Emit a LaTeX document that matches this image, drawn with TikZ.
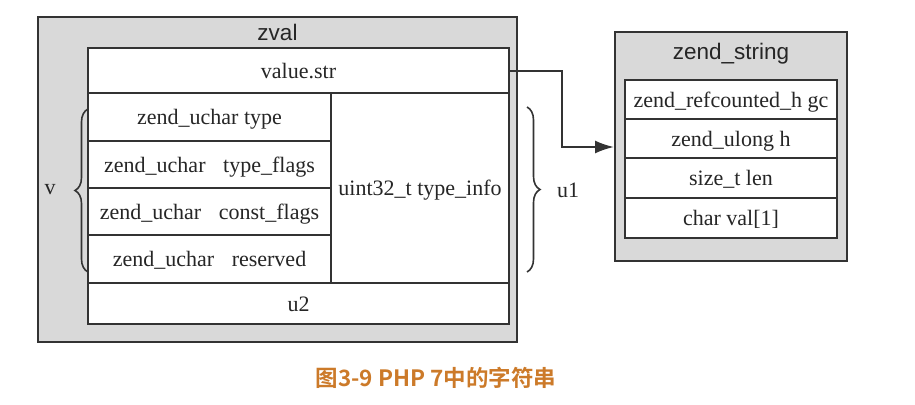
\documentclass[tikz,border=0pt]{standalone}
\usepackage{fontspec}
\setmainfont{Liberation Serif}
\newfontfamily\titlefont{Liberation Sans}
\newfontfamily\cjkfont{Noto Sans CJK SC}[BoldFont={* Bold}]
\usetikzlibrary{arrows.meta,decorations.pathreplacing}
\definecolor{linegray}{HTML}{333333}
\definecolor{boxgray}{HTML}{D9D9D9}
\definecolor{captionorange}{HTML}{CC7A29}
\begin{document}
\begin{tikzpicture}[x=1pt,y=-1pt,
  outerbox/.style={draw=linegray,line width=2pt,fill=boxgray,rectangle,inner sep=0pt},
  cell/.style={draw=linegray,line width=2pt,fill=white,rectangle,inner sep=0pt,text height=19pt,text depth=4pt,font=\fontsize{22}{26}\selectfont,text=black!85},
  titletext/.style={font=\titlefont\fontsize{22.5}{26}\selectfont,text=black!85,inner sep=0pt},
  bracetext/.style={font=\fontsize{22}{26}\selectfont,text=black!85,inner sep=0pt},
  bracestyle/.style={draw=linegray,line width=1.6pt,decorate,decoration={brace,amplitude=13pt}},
  conn/.style={draw=linegray,line width=2pt,-{Latex[length=19pt,width=13pt]}}
]
\useasboundingbox (0,0) rectangle (915,404);
% zval
\node[outerbox,minimum width=479pt,minimum height=325pt] (zval) at (277.5,179.5) {};
\node[titletext] (zvaltitle) at (277.5,32) {zval};
\node[cell,minimum width=421pt,minimum height=45pt] (valstr) at (298.5,70.5) {value.str};
\node[cell,minimum width=178pt,minimum height=190pt] (tinfo) at (420,188) {uint32\_t type\_info};
\node[cell,minimum width=243pt,minimum height=48pt] (type) at (209.5,117) {zend\_uchar type};
\node[cell,minimum width=243pt,minimum height=47pt] (tflags) at (209.5,164.5) {zend\_uchar\hspace{0.8em}type\_flags};
\node[cell,minimum width=243pt,minimum height=47pt] (cflags) at (209.5,211.5) {zend\_uchar\hspace{0.8em}const\_flags};
\node[cell,minimum width=243pt,minimum height=48pt] (reserved) at (209.5,259) {zend\_uchar\hspace{0.8em}reserved};
\node[cell,minimum width=421pt,minimum height=41pt] (u2) at (298.5,303.5) {u2};
% braces
\coordinate (vb1) at (88,272);
\coordinate (vb2) at (88,109);
\draw[bracestyle] (vb1) -- (vb2);
\node[bracetext] (vlabel) at (50,190) {v};
\coordinate (ub1) at (527,107);
\coordinate (ub2) at (527,272);
\draw[bracestyle] (ub1) -- (ub2);
\node[bracetext] (u1label) at (568,190) {u1};
% zend_string
\node[outerbox,minimum width=232pt,minimum height=229pt] (zs) at (731,146.5) {};
\node[titletext] (zstitle) at (731,54) {zend\_string};
\node[cell,minimum width=212pt,minimum height=39pt] (gc) at (731,99.5) {zend\_refcounted\_h gc};
\node[cell,minimum width=212pt,minimum height=39pt] (h) at (731,138.5) {zend\_ulong h};
\node[cell,minimum width=212pt,minimum height=40pt] (len) at (731,178) {size\_t len};
\node[cell,minimum width=212pt,minimum height=40pt] (val) at (731,218) {char val[1]};
% connector
\draw[conn] (valstr.east |- 0,71) -- (562,71) -- (562,147) -- (zs.west |- 0,147);
% caption
\node[font=\cjkfont\bfseries\fontsize{22.5}{26}\selectfont,text=captionorange,inner sep=0pt] (caption) at (436,378) {图3-9 PHP 7中的字符串};
\end{tikzpicture}
\end{document}
